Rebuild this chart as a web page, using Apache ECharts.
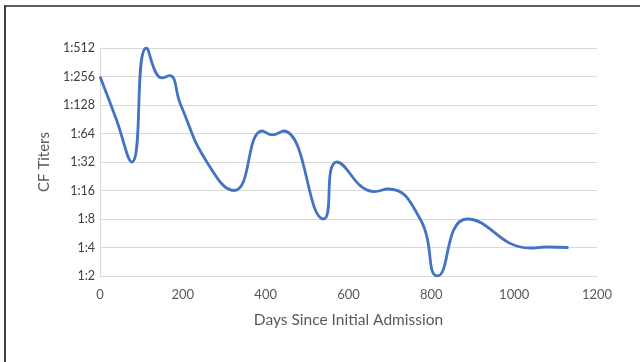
<!DOCTYPE html>
<html>
<head>
<meta charset="utf-8">
<script src="https://cdn.jsdelivr.net/npm/echarts@6/dist/echarts.min.js"></script>
<style>
  html, body { margin: 0; padding: 0; background: #ffffff; }
  #chart { width: 640px; height: 362px; }
</style>
</head>
<body>
<div id="chart"></div>
<script>
const days = [0, 38, 77, 112, 150, 168, 195, 258, 324, 392, 415, 443, 540, 572, 663, 696, 773, 815, 886, 1039, 1076, 1131];
const titers = [256, 94, 32, 512, 247, 262, 128, 32, 16, 68, 62, 68, 8, 32, 15.6, 16.6, 8, 2, 8, 3.95, 4.05, 4];
const xTitle = 'Days Since Initial Admission';
const yTitle = 'CF Titers';

const chart = echarts.init(document.getElementById('chart'), null, { renderer: 'canvas' });
const seriesData = days.map((d, i) => [d, titers[i]]);
const fontFamily = 'Lato, "Open Sans", sans-serif';

chart.setOption({
  animation: false,
  backgroundColor: '#ffffff',
  grid: { left: 100, right: 43, top: 48, bottom: 86, containLabel: false },
  xAxis: {
    type: 'value',
    min: 0,
    max: 1200,
    interval: 200,
    name: xTitle,
    nameLocation: 'middle',
    nameGap: 36,
    nameTextStyle: { color: '#595959', fontSize: 15.5, fontFamily: fontFamily },
    axisLine: { show: true, lineStyle: { color: '#d9d9d9', width: 1 } },
    axisTick: { show: false },
    axisLabel: { color: '#595959', fontSize: 13, fontFamily: fontFamily, margin: 12, formatter: v => String(v) },
    splitLine: { show: false }
  },
  yAxis: {
    type: 'log',
    logBase: 2,
    min: 2,
    max: 512,
    splitNumber: 8,
    name: yTitle,
    nameLocation: 'middle',
    nameGap: 45,
    nameTextStyle: { color: '#595959', fontSize: 15, fontFamily: fontFamily },
    axisLine: { show: true, lineStyle: { color: '#d9d9d9', width: 1 } },
    axisTick: { show: false },
    axisLabel: {
      color: '#404040', fontSize: 12.5, fontFamily: fontFamily, margin: 5,
      formatter: v => '1:' + Math.round(v)
    },
    splitLine: { show: true, lineStyle: { color: '#d9d9d9', width: 1.2 } }
  },
  series: [{
    type: 'line',
    data: seriesData,
    smooth: 0.5,
    showSymbol: false,
    symbol: 'none',
    lineStyle: { color: '#4472c4', width: 2.8 },
    clip: true
  }],
  graphic: [
    { type: 'rect', shape: { x: 4, y: 5, width: 636, height: 2 }, style: { fill: '#606060' }, silent: true },
    { type: 'rect', shape: { x: 4, y: 5, width: 2, height: 357 }, style: { fill: '#404040' }, silent: true }
  ]
});
</script>
</body>
</html>
